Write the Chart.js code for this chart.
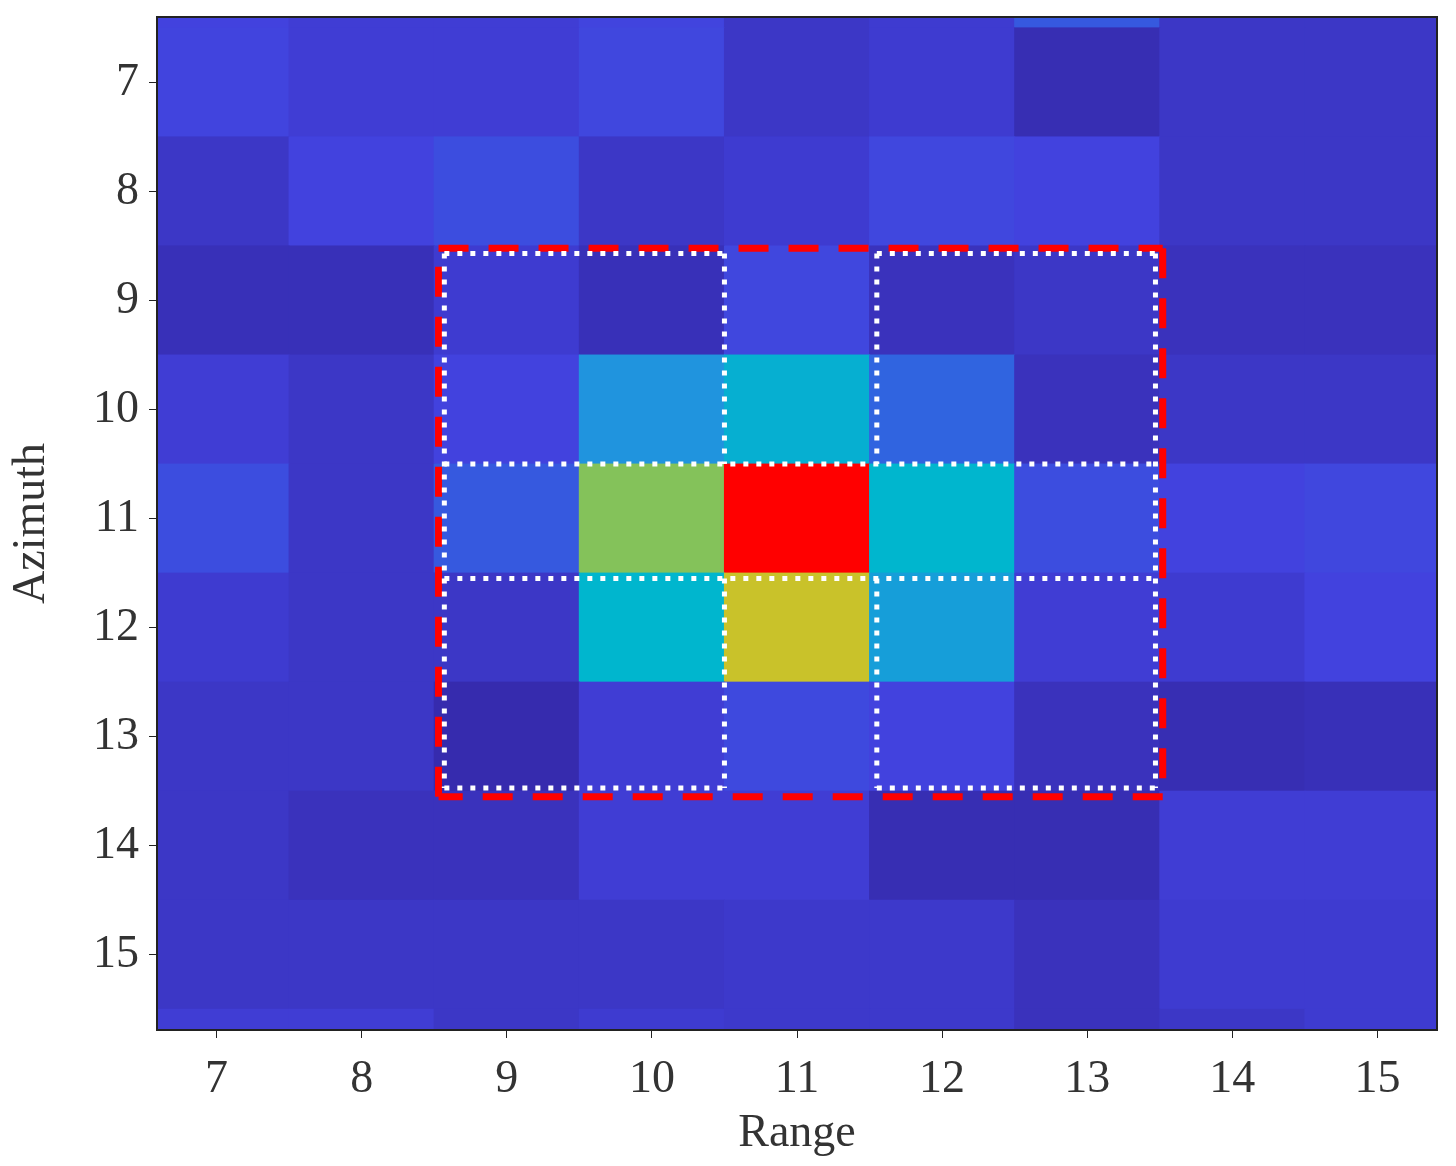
<!DOCTYPE html>
<html><head><meta charset="utf-8">
<script src="https://cdn.jsdelivr.net/npm/chart.js@4"></script>
<style>html,body{margin:0;background:#fff}#w{width:1456px;height:1166px}</style>
</head><body><div id="w"><canvas id="c"></canvas></div>
<script>
const ranges = [7,8,9,10,11,12,13,14,15];
const azimuths = [6,7,8,9,10,11,12,13,14,15,16];
const values = [
 [0.15,0.13,0.13,0.16,0.10,0.12,0.25,0.10,0.10],
 [0.16,0.13,0.13,0.17,0.10,0.12,0.06,0.10,0.10],
 [0.10,0.15,0.20,0.10,0.12,0.17,0.15,0.10,0.10],
 [0.07,0.07,0.12,0.07,0.17,0.08,0.10,0.08,0.08],
 [0.13,0.10,0.15,0.40,0.48,0.30,0.08,0.10,0.10],
 [0.20,0.10,0.25,0.65,1.00,0.50,0.20,0.15,0.17],
 [0.12,0.10,0.10,0.50,0.75,0.43,0.13,0.12,0.15],
 [0.10,0.10,0.05,0.13,0.18,0.15,0.08,0.06,0.07],
 [0.10,0.08,0.08,0.13,0.13,0.06,0.06,0.13,0.13],
 [0.10,0.10,0.10,0.10,0.11,0.11,0.08,0.12,0.12],
 [0.13,0.13,0.10,0.12,0.11,0.11,0.08,0.10,0.12]
];
const stops=[[0,[48,32,150]],[0.15,[66,66,222]],[0.3,[48,100,224]],[0.4,[32,148,222]],[0.5,[0,182,206]],[0.65,[132,194,90]],[0.75,[201,194,42]],[0.88,[255,110,0]],[1,[255,0,0]]];
function cmap(v){for(let i=1;i<stops.length;i++){if(v<=stops[i][0]){const a=stops[i-1],b=stops[i],t=(v-a[0])/(b[0]-a[0]);const c=a[1].map((x,k)=>Math.round(x+(b[1][k]-x)*t));return `rgb(${c})`;}}return 'rgb(255,0,0)';}
const heat={id:'heat',beforeDatasetsDraw(ch){const {ctx,scales:{x,y},chartArea:a}=ch;ctx.save();ctx.beginPath();ctx.rect(a.left,a.top,a.right-a.left,a.bottom-a.top);ctx.clip();
 azimuths.forEach((az,r)=>ranges.forEach((rg,c)=>{const x0=x.getPixelForValue(rg-0.5),x1=x.getPixelForValue(rg+0.5),y0=y.getPixelForValue(az-0.5),y1=y.getPixelForValue(az+0.5);ctx.fillStyle=cmap(values[r][c]);ctx.fillRect(Math.min(x0,x1)-0.5,Math.min(y0,y1)-0.5,Math.abs(x1-x0)+1,Math.abs(y1-y0)+1);}));
 const L=(p)=>{ctx.beginPath();ctx.moveTo(x.getPixelForValue(p[0]),y.getPixelForValue(p[1]));ctx.lineTo(x.getPixelForValue(p[2]),y.getPixelForValue(p[3]));ctx.stroke();};
 ctx.strokeStyle='#ff0000';ctx.lineWidth=7;ctx.setLineDash([30,20]);
 [[8.53,8.52,13.52,8.52],[13.52,8.52,13.52,13.55],[13.52,13.55,8.53,13.55],[8.53,13.55,8.53,8.52]].forEach(L);
 ctx.strokeStyle='#ffffff';ctx.lineWidth=5;ctx.setLineDash([5,8]);
 [[8.57,8.57,10.5,8.57],[11.55,8.57,13.47,8.57],[8.57,13.47,10.5,13.47],[11.55,13.47,13.47,13.47],
  [8.57,10.5,13.47,10.5],[8.57,11.55,13.47,11.55],[8.57,8.57,8.57,13.47],[13.47,8.57,13.47,13.47],
  [10.5,8.57,10.5,10.5],[11.55,8.57,11.55,10.5],[10.5,11.55,10.5,13.47],[11.55,11.55,11.55,13.47]].forEach(L);
 ctx.restore();},
 afterDraw(ch){const {ctx,chartArea:a}=ch;ctx.save();ctx.strokeStyle='#222';ctx.lineWidth=2;ctx.strokeRect(a.left,a.top,a.right-a.left,a.bottom-a.top);ctx.restore();}};
const font={family:'"Liberation Serif", serif',size:46};
new Chart(document.getElementById('c'),{type:'scatter',data:{datasets:[{data:[]}]},plugins:[heat],
options:{responsive:true,maintainAspectRatio:false,animation:false,layout:{padding:{top:17,right:19}},
plugins:{legend:{display:false},tooltip:{enabled:false}},
scales:{
 x:{type:'linear',min:6.59,max:15.41,afterBuildTicks(s){s.ticks=ranges.map(v=>({value:v}));},afterFit(s){s.height=136;s.paddingLeft=0;s.paddingRight=0;},
  grid:{drawOnChartArea:false,tickLength:8,color:'#222'},border:{color:'#222',width:2},
  ticks:{font,color:'#333',padding:14},title:{display:true,text:'Range',font,color:'#333',padding:{top:-22}}},
 y:{type:'linear',reverse:true,min:6.4,max:15.69,afterBuildTicks(s){s.ticks=ranges.map(v=>({value:v}));},afterFit(s){s.width=157;s.paddingTop=0;s.paddingBottom=0;},
  grid:{drawOnChartArea:false,tickLength:8,color:'#222'},border:{color:'#222',width:2},
  ticks:{font,color:'#333',padding:10},title:{display:true,text:'Azimuth',font,color:'#333',padding:{bottom:0}}}
}}});
</script></body></html>
